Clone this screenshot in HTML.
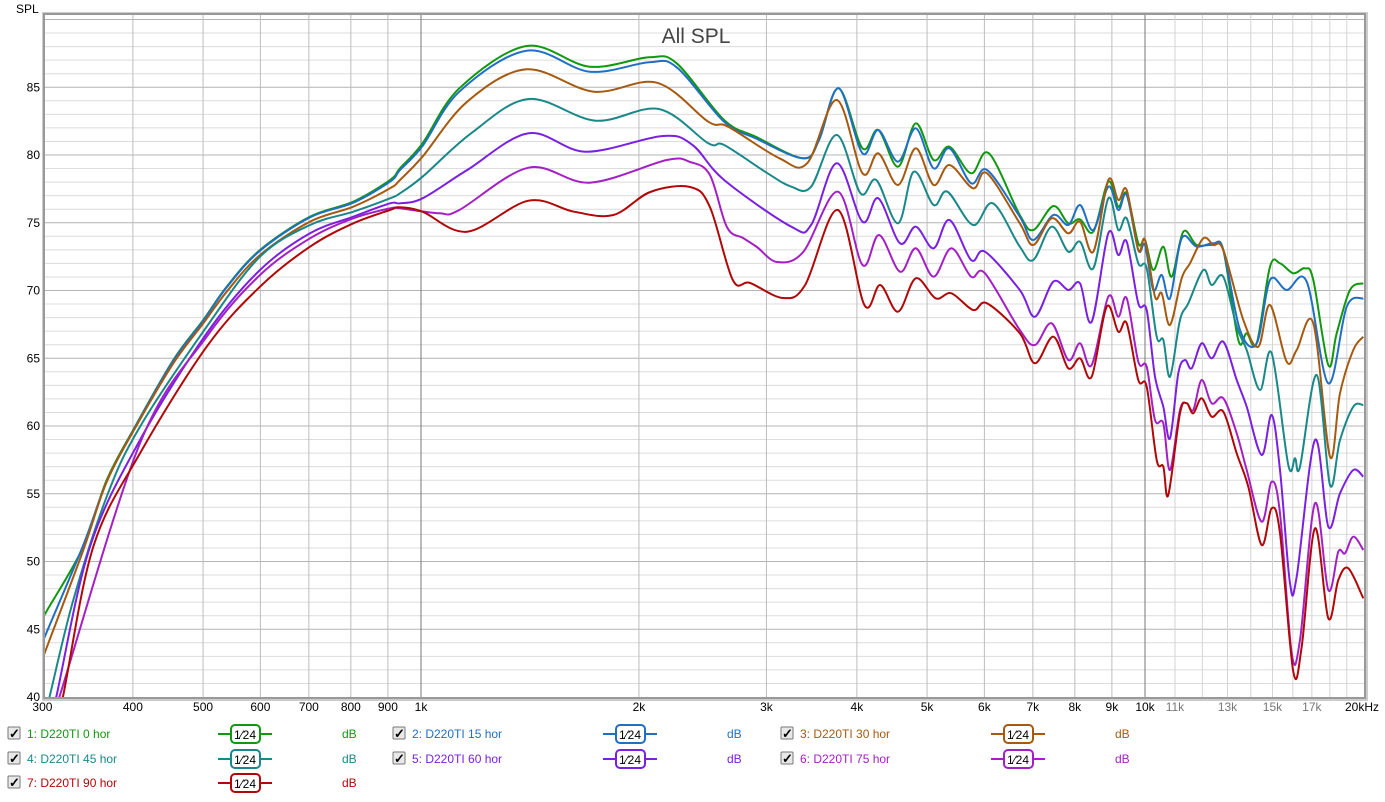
<!DOCTYPE html>
<html><head><meta charset="utf-8"><style>
body{margin:0;background:#fff;width:1385px;height:797px;overflow:hidden;font-family:"Liberation Sans",sans-serif}
svg text{font-family:"Liberation Sans",sans-serif}
</style></head><body>
<svg id="s" width="1385" height="797" xmlns="http://www.w3.org/2000/svg">
<defs><clipPath id="c"><rect x="45" y="15" width="1319" height="682"/></clipPath></defs>
<rect x="42" y="12" width="1326" height="689" fill="#ccc"/>
<rect x="43" y="13" width="1323" height="686" fill="#999"/>
<rect x="45" y="15" width="1319" height="682" fill="#fff"/>
<g id="grid"></g>
<text x="696" y="43" text-anchor="middle" font-size="21" fill="#444">All SPL</text>
<text x="16" y="13" font-size="12" fill="#000">SPL</text>
<g id="ylab" font-size="12" fill="#000" text-anchor="end"></g>
<g id="xlab" font-size="12" fill="#000" text-anchor="middle"></g>
<g id="curves" clip-path="url(#c)" fill="none" stroke-width="2" stroke-linejoin="round"></g>
<g id="leg" font-size="12"></g>
</svg>
<script>
var NS="http://www.w3.org/2000/svg";
function el(p,t,a,txt){var e=document.createElementNS(NS,t);for(var k in a)e.setAttribute(k,a[k]);if(txt!=null)e.textContent=txt;p.appendChild(e);return e;}
function X(f){return 421+Math.log10(f/1000)*724;}
function Y(d){return 697-(d-40)*13.55;}
var g=document.getElementById('grid');
for(var d=41;d<=90;d++){el(g,'line',{x1:45,x2:1364,y1:Y(d),y2:Y(d),stroke:d%5==0?'#b4b4b4':'#dcdcdc','stroke-width':1});}
var fs=[];for(var f=400;f<1000;f+=100)fs.push(f);for(f=2000;f<10000;f+=1000)fs.push(f);for(f=11000;f<20000;f+=1000)fs.push(f);
fs.forEach(function(f){el(g,'line',{x1:X(f),x2:X(f),y1:15,y2:697,stroke:f>10000?'#d4d4d4':'#bdbdbd','stroke-width':1});});
[1000,10000].forEach(function(f){el(g,'line',{x1:X(f),x2:X(f),y1:15,y2:697,stroke:'#777','stroke-width':1});});
var yl=document.getElementById('ylab');
for(d=40;d<=85;d+=5)el(yl,'text',{x:40,y:Y(d)+4},String(d));
var xl=document.getElementById('xlab');
[[300,'300'],[400,'400'],[500,'500'],[600,'600'],[700,'700'],[800,'800'],[900,'900'],[1000,'1k'],[2000,'2k'],[3000,'3k'],[4000,'4k'],[5000,'5k'],[6000,'6k'],[7000,'7k'],[8000,'8k'],[9000,'9k'],[10000,'10k'],[11000,'11k'],[13000,'13k'],[15000,'15k'],[17000,'17k']].forEach(function(a){var t=el(xl,'text',{x:X(a[0]),y:711},a[1]);if([11000,13000,15000,17000].indexOf(a[0])>=0)t.setAttribute('fill','#777');});
el(xl,'text',{x:1362,y:711},'20kHz');
function z5(p){return [40+p[0]/3,180+p[1]/3];}
function z4(p){return [400+p[0]/2.53,30+p[1]/3];}
function z3(p){return [1000+p[0]/3,180+p[1]/3];}
var S=[
['#109810',
[[25,1285],[130,1100],[200,900],[285,740],[400,540],[490,420],[560,320],[660,210],[810,110],[940,65],[1050,0]],
[[0,415],[57,340],[150,175],[320,48],[480,110],[630,82],[700,100],[820,270],[900,320],[1020,385],[1060,330],[1110,175],[1170,355],[1210,300],[1260,410],[1305,280],[1350,390],[1390,350],[1445,430],[1490,370],[1568,555]],
[[100,150],[160,78],[205,130],[240,118],[280,155],[325,5],[355,80],[380,40],[415,190],[435,180],[460,270],[490,200],[515,290],[550,155],[590,195],[640,195],[670,210],[715,480],[740,460],[770,490],[810,260],[840,250],[880,280],[915,265],[940,300],[985,555],[1010,460],[1050,330],[1090,310]]],
['#1f6fc4',
[[25,1345],[130,1095],[200,905],[285,742],[400,542],[490,422],[560,322],[660,212],[810,112],[940,68],[1050,5]],
[[0,420],[57,348],[150,185],[320,62],[480,125],[630,97],[700,112],[820,275],[900,325],[1020,385],[1060,330],[1110,175],[1170,370],[1210,300],[1260,395],[1305,295],[1350,415],[1390,355],[1445,460],[1485,420],[1568,560]],
[[100,180],[160,105],[205,135],[240,75],[280,150],[325,20],[355,90],[380,45],[415,210],[435,195],[460,330],[485,285],[510,355],[545,175],[590,200],[640,190],[670,210],[720,450],[770,490],[810,300],[860,330],[920,305],[985,610],[1040,380],[1090,355]]],
['#a65a10',
[[25,1390],[130,1110],[200,905],[285,745],[400,550],[490,430],[560,335],[660,225],[810,125],[940,80],[1050,25]],
[[0,450],[57,380],[170,215],[320,118],[490,185],[650,158],[780,275],[830,290],[960,385],[1030,400],[1105,210],[1170,430],[1210,370],[1260,465],[1305,355],[1350,465],[1390,405],[1450,475],[1485,430],[1568,580]],
[[100,195],[155,115],[205,160],[240,125],[280,215],[325,0],[355,60],[380,30],[415,210],[435,180],[465,350],[485,340],[510,435],[545,295],[570,250],[610,175],[640,195],[670,210],[730,420],[775,500],[810,375],[860,545],[890,510],[940,430],[990,830],[1020,640],[1060,510],[1090,470]]],
['#1a8888',
[[30,1545],[100,1260],[200,950],[300,740],[500,440],[660,230],[810,135],[940,95],[1050,55]],
[[0,490],[57,440],[180,310],[325,207],[495,272],[655,237],[780,340],[820,345],[930,430],[990,470],[1040,470],[1105,315],[1165,490],[1205,450],[1260,580],[1300,425],[1350,525],[1385,485],[1450,585],[1500,520],[1568,650]],
[[100,240],[155,140],[205,215],[240,185],[280,265],[325,55],[355,150],[380,115],[415,250],[440,265],[470,470],[490,480],[510,590],[540,420],[565,370],[610,270],[635,315],[670,290],[710,440],[740,510],[780,630],[815,520],[865,855],[885,835],[900,860],[950,585],[990,915],[1020,780],[1060,680],[1090,675]]],
['#7a20e0',
[[50,1545],[150,1100],[300,780],[500,460],[660,270],[810,160],[940,110],[1050,70]],
[[0,520],[57,505],[170,420],[325,310],[470,365],[665,318],[740,345],[820,450],[990,590],[1040,585],[1105,400],[1170,575],[1210,505],[1265,640],[1305,590],[1350,655],[1390,570],[1445,690],[1480,665],[1568,780]],
[[105,410],[160,305],[205,330],[240,310],[275,425],[325,160],[355,225],[380,185],[415,370],[440,390],[465,590],[490,680],[510,775],[535,580],[555,540],[575,565],[605,490],[635,535],[670,485],[710,600],[740,680],[785,825],[815,705],[840,870],[870,1210],[890,1190],[945,780],[985,1040],[1020,940],[1060,870],[1090,890]]],
['#a420c4',
[[60,1545],[300,790],[500,470],[660,285],[810,175],[940,115],[1050,85]],
[[0,535],[100,550],[150,540],[325,413],[480,458],[675,390],[734,396],[784,435],[827,591],[868,624],[903,651],[954,696],[1020,666],[1108,485],[1170,705],[1212,615],[1265,725],[1305,655],[1350,740],[1395,655],[1445,740],[1480,730],[1568,900]],
[[105,495],[155,430],[205,540],[240,490],[275,555],[325,350],[355,410],[380,355],[415,545],[440,560],[465,720],[490,730],[510,870],[540,690],[560,670],[580,690],[605,600],[635,670],[670,655],[710,760],[740,870],[785,1025],[815,905],[840,1000],[875,1420],[900,1380],[945,970],[985,1230],[1015,1115],[1035,1120],[1060,1070],[1090,1110]]],
['#b00808',
[[70,1545],[160,1100],[300,820],[500,500],[660,320],[810,200],[940,130],[1050,90]],
[[0,532],[57,545],[170,605],[325,512],[440,545],[540,555],[633,486],[734,471],[784,531],[842,750],[886,759],[969,804],[1025,765],[1108,540],[1175,825],[1215,765],[1260,845],[1305,745],[1355,805],[1395,790],[1450,840],[1485,820],[1568,910]],
[[105,550],[160,470],[205,565],[240,535],[275,590],[320,380],[355,455],[380,430],[415,600],[440,620],[470,840],[490,860],[505,945],[540,700],[560,670],[580,700],[605,655],[635,710],[670,695],[710,820],[745,920],[785,1095],[815,985],[840,1060],[880,1475],[905,1400],[945,1045],[985,1315],[1015,1200],[1045,1165],[1090,1255]]]
];
var cg=document.getElementById('curves');
S.forEach(function(s){
 var P=[];
 s[1].forEach(function(p){var q=z5(p);if(q[0]<400)P.push(q);});
 s[2].forEach(function(p){P.push(z4(p));});
 s[3].forEach(function(p){var q=z3(p);if(q[0]>1021)P.push(q);});
 if(P[0][0]>45){var a=P[0],b=P[1];var t=(45-a[0])/(b[0]-a[0]);P.unshift([45,a[1]+t*(b[1]-a[1])]);}
 var d='M'+P[0][0].toFixed(1)+','+P[0][1].toFixed(1);
 for(var i=0;i<P.length-1;i++){
  var p0=P[Math.max(0,i-1)],p1=P[i],p2=P[i+1],p3=P[Math.min(P.length-1,i+2)];
  var c1=[p1[0]+(p2[0]-p0[0])/6,p1[1]+(p2[1]-p0[1])/6],c2=[p2[0]-(p3[0]-p1[0])/6,p2[1]-(p3[1]-p1[1])/6];
  d+='C'+c1[0].toFixed(1)+','+c1[1].toFixed(1)+' '+c2[0].toFixed(1)+','+c2[1].toFixed(1)+' '+p2[0].toFixed(1)+','+p2[1].toFixed(1);
 }
 el(cg,'path',{d:d,stroke:s[0]});
});
var lg=document.getElementById('leg');
var L=[['1: D220TI 0 hor',0,0,0],['2: D220TI 15 hor',1,1,0],['3: D220TI 30 hor',2,2,0],['4: D220TI 45 hor',3,0,1],['5: D220TI 60 hor',4,1,1],['6: D220TI 75 hor',5,2,1],['7: D220TI 90 hor',6,0,2]];
var cx=[8,393,781];
L.forEach(function(l){
 var col=S[l[1]][0],x=cx[l[2]],y=[734,759,783][l[3]];
 el(lg,'rect',{x:x,y:y-7,width:12,height:12,fill:'#e8e8e8',stroke:'#777','stroke-width':1,rx:1});
 el(lg,'text',{x:x+1,y:y+4,'font-size':13,'font-weight':'bold',fill:'#000'},'\u2713');
 el(lg,'text',{x:x+19,y:y+4,fill:col},l[0]);
 el(lg,'line',{x1:x+210,x2:x+264,y1:y,y2:y,stroke:col,'stroke-width':2});
 el(lg,'rect',{x:x+223,y:y-9,width:29,height:18,rx:4,fill:'#fff',stroke:col,'stroke-width':2});
 el(lg,'text',{x:x+237,y:y+5,'text-anchor':'middle','font-size':12,fill:'#000'},'1\u204424');
 el(lg,'text',{x:x+334,y:y+4,fill:col},'dB');
});
</script>
</body></html>
